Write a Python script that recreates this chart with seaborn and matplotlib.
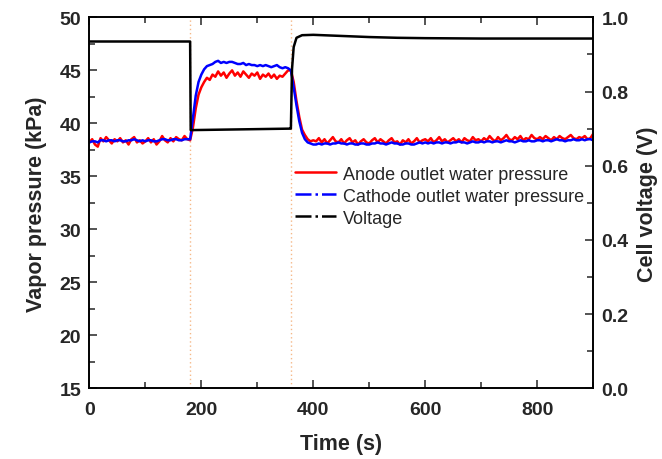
import numpy as np
import pandas as pd
import matplotlib
matplotlib.use("Agg")
import matplotlib.pyplot as plt
from matplotlib.lines import Line2D
from matplotlib.ticker import MultipleLocator, FormatStrFormatter
import seaborn as sns

# Sample times for the pressure traces (every 5 s)
time_s = np.arange(0, 905, 5)

# Anode outlet water pressure (kPa)
anode_kpa = [
    38.2, 38.5, 38.0, 37.8, 38.6, 38.3, 38.7, 38.4, 38.1, 38.5, 38.3, 38.6,
    38.2, 38.4, 38.0, 38.5, 38.7, 38.2, 38.4, 38.1, 38.3, 38.6, 38.2, 38.5,
    38.0, 38.3, 38.8, 38.4, 38.2, 38.6, 38.3, 38.7, 38.5, 38.4, 38.8, 38.5,
    38.4, 39.6, 41.4, 42.7, 43.4, 43.9, 44.3, 44.1, 44.6, 44.4, 44.9, 44.5,
    44.8, 44.3, 44.7, 45.0, 44.5, 44.8, 44.4, 44.9, 44.6, 44.3, 44.7, 44.5,
    44.8, 44.2, 44.6, 44.4, 44.7, 44.3, 44.6, 44.2, 44.5, 44.4, 44.7, 45.0,
    45.0, 43.9, 42.1, 40.6, 39.4, 38.9, 38.5, 38.3, 38.4,
    38.3, 38.6, 38.2, 38.5, 38.1, 38.4, 38.7, 38.3, 38.2, 38.5, 38.1, 38.4,
    38.6, 38.2, 38.4, 38.0, 38.3, 38.5, 38.2, 38.1,
    38.4, 38.6, 38.2, 38.5, 38.3, 38.1, 38.4, 38.6, 38.2, 38.3, 38.0, 38.4,
    38.2, 38.5, 38.1, 38.3, 38.6, 38.2, 38.4, 38.5,
    38.3, 38.6, 38.2, 38.4, 38.7, 38.3, 38.5, 38.2, 38.4, 38.6, 38.3, 38.5,
    38.2, 38.6, 38.4, 38.3, 38.7, 38.4, 38.5, 38.3,
    38.6, 38.4, 38.8, 38.5, 38.3, 38.7, 38.4, 38.6, 38.9, 38.5, 38.4, 38.7,
    38.5, 38.8, 38.4, 38.6, 38.5, 38.9, 38.6, 38.5,
    38.7, 38.5, 38.8, 38.6, 38.4, 38.7, 38.5, 38.8, 38.6, 38.5, 38.7, 38.9,
    38.6, 38.5, 38.7, 38.6, 38.8, 38.5, 38.6, 39.0,
]

# Cathode outlet water pressure (kPa)
cathode_kpa = [
    38.2, 38.3, 38.3, 38.2, 38.4, 38.4, 38.3, 38.4, 38.4, 38.3, 38.4, 38.4,
    38.3, 38.3, 38.4, 38.4, 38.5, 38.4, 38.3, 38.4, 38.3, 38.4, 38.4, 38.3,
    38.3, 38.4, 38.5, 38.5, 38.4, 38.4, 38.5, 38.5, 38.4, 38.4, 38.5, 38.5,
    38.5, 40.5, 42.6, 43.9, 44.6, 45.1, 45.4, 45.5, 45.6, 45.8, 45.9, 45.7,
    45.8, 45.7, 45.8, 45.8, 45.7, 45.6, 45.6, 45.7, 45.5, 45.6, 45.5, 45.5,
    45.4, 45.5, 45.4, 45.5, 45.4, 45.3, 45.4, 45.5, 45.3, 45.2, 45.3, 45.2,
    45.0, 43.4, 41.7, 40.2, 39.1, 38.5, 38.2, 38.1, 38.0,
    38.0, 38.1, 38.0, 38.1, 38.1, 38.0, 38.1, 38.1, 38.2, 38.1, 38.1, 38.0,
    38.1, 38.1, 38.0, 38.0, 38.1, 38.1, 38.0, 38.0,
    38.1, 38.1, 38.2, 38.1, 38.1, 38.0, 38.1, 38.2, 38.1, 38.1, 38.0, 38.0,
    38.1, 38.1, 38.0, 38.0, 38.1, 38.2, 38.1, 38.2,
    38.1, 38.2, 38.1, 38.2, 38.2, 38.1, 38.2, 38.2, 38.1, 38.2, 38.2, 38.3,
    38.2, 38.2, 38.1, 38.2, 38.3, 38.2, 38.2, 38.3,
    38.2, 38.3, 38.3, 38.2, 38.3, 38.3, 38.2, 38.3, 38.4, 38.3, 38.3, 38.2,
    38.3, 38.4, 38.3, 38.3, 38.4, 38.3, 38.3, 38.4,
    38.4, 38.3, 38.4, 38.4, 38.3, 38.4, 38.5, 38.4, 38.4, 38.3, 38.4, 38.4,
    38.5, 38.4, 38.4, 38.5, 38.4, 38.5, 38.5, 38.4,
]

# Cell voltage (V)
volt_time_s = [0, 180, 181, 359, 360, 362, 365, 370, 380, 400, 450, 500,
               550, 600, 700, 800, 900]
voltage_v = [0.935, 0.935, 0.696, 0.700, 0.700, 0.86, 0.92, 0.945, 0.952,
             0.953, 0.950, 0.947, 0.945, 0.944, 0.943, 0.943, 0.943]

# Load-change instants (s)
switch_times = [180, 360]

pressure = pd.DataFrame({"time": time_s, "anode": anode_kpa, "cathode": cathode_kpa})
volt = pd.DataFrame({"time": volt_time_s, "voltage": voltage_v})

sns.set_style("ticks")
plt.rcParams["font.family"] = ["Liberation Sans", "DejaVu Sans"]

fig = plt.figure(figsize=(6.62, 4.6), dpi=100)
ax = fig.add_axes([0.135, 0.154, 0.761, 0.806])

for t in switch_times:
    ax.axvline(t, color="#f5b888", lw=1.0, ls=(0, (1, 2)), zorder=0)

sns.lineplot(data=pressure, x="time", y="anode", ax=ax, color="#ff0000", lw=1.8)
sns.lineplot(data=pressure, x="time", y="cathode", ax=ax, color="#0000ff", lw=1.8)

ax2 = ax.twinx()
sns.lineplot(data=volt, x="time", y="voltage", ax=ax2, color="black", lw=1.8)

ax.set_xlim(0, 900)
ax.set_ylim(15, 50)
ax2.set_ylim(0, 1.0)

ax.xaxis.set_major_locator(MultipleLocator(200))
ax.xaxis.set_minor_locator(MultipleLocator(100))
ax.yaxis.set_major_locator(MultipleLocator(5))
ax.yaxis.set_minor_locator(MultipleLocator(2.5))
ax2.yaxis.set_major_locator(MultipleLocator(0.2))
ax2.yaxis.set_minor_locator(MultipleLocator(0.1))
ax2.yaxis.set_major_formatter(FormatStrFormatter("%.1f"))

for a in (ax, ax2):
    for s in a.spines.values():
        s.set_linewidth(1.2)
        s.set_color("black")
    a.tick_params(which="both", direction="in", width=1.1, labelsize=14, pad=6)
    a.tick_params(which="major", length=6)
    a.tick_params(which="minor", length=4)
    for lab in a.get_xticklabels() + a.get_yticklabels():
        lab.set_fontweight("bold")
ax.tick_params(which="both", top=True, right=False)
ax.tick_params(axis="x", pad=9)
ax2.tick_params(which="both", right=True, left=False)

ax.set_xlabel("Time (s)", fontsize=15.5, fontweight="bold", labelpad=11)
ax.set_ylabel("Vapor pressure (kPa)", fontsize=15.5, fontweight="bold", labelpad=9)
ax2.set_ylabel("Cell voltage (V)", fontsize=15.5, fontweight="bold", labelpad=6)

handles = [
    Line2D([], [], color="#ff0000", lw=1.8),
    Line2D([], [], color="#0000ff", lw=1.8, ls="-."),
    Line2D([], [], color="black", lw=1.8, ls="-."),
]
labels = ["Anode outlet water pressure", "Cathode outlet water pressure", "Voltage"]
ax2.legend(handles, labels, loc="upper left", bbox_to_anchor=(0.408, 0.600),
           frameon=False, fontsize=13, handlelength=2.3, handletextpad=0.35,
           labelspacing=0.28, borderaxespad=0, borderpad=0)

fig.savefig("out.png", dpi=100)
